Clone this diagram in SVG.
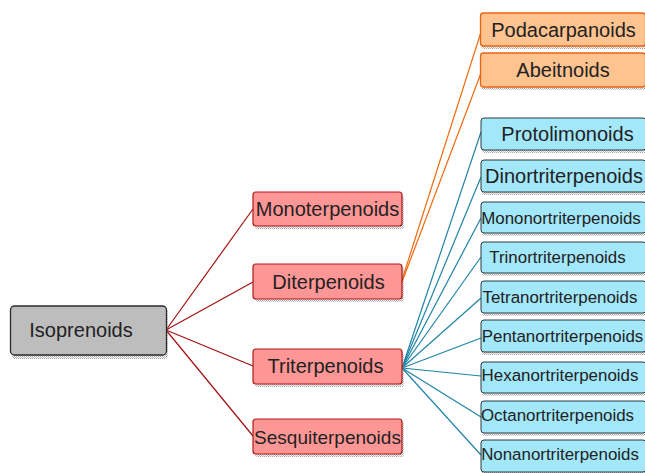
<svg xmlns="http://www.w3.org/2000/svg" width="645" height="473" viewBox="0 0 645 473">
<defs>
<pattern id="dots" width="2" height="2" patternUnits="userSpaceOnUse"><rect width="1" height="1" fill="#555"/><rect x="1" y="1" width="1" height="1" fill="#888"/></pattern>
</defs>
<style>
text{font-family:"Liberation Sans",Arial,sans-serif;fill:#222;text-anchor:middle}
.sh{fill:url(#dots);opacity:0.55}
.gray{fill:#bdbdbd;stroke:#2a2a2a;stroke-width:1.3}
.red{fill:#ff9696;stroke:#b01818;stroke-width:1.2}
.org{fill:#ffc38f;stroke:#ec6410;stroke-width:1.3}
.blu{fill:#a3e7fb;stroke:#2c3a40;stroke-width:1}
.cr{stroke:#a31010;stroke-width:1.2;fill:none}
.co{stroke:#f06a10;stroke-width:1.2;fill:none}
.cb{stroke:#1f84a6;stroke-width:1.2;fill:none}
.big{font-size:20px}
.sm{font-size:16.9px}
</style>
<g id="connectors">
<path class="cr" d="M166 330 L253 209"/>
<path class="cr" d="M166 330 L253 282"/>
<path class="cr" d="M166 330 L253 366"/>
<path class="cr" d="M166 330 L253 436"/>
<path class="co" d="M402 280 L481 32"/>
<path class="co" d="M402 282 L481 73"/>
<path class="cb" d="M402 368 L481 132"/>
<path class="cb" d="M402 368 L481 177"/>
<path class="cb" d="M402 368 L481 218"/>
<path class="cb" d="M402 368 L481 257"/>
<path class="cb" d="M402 368 L481 298"/>
<path class="cb" d="M402 368 L481 338"/>
<path class="cb" d="M402 368 L481 376"/>
<path class="cb" d="M402 368 L481 417"/>
<path class="cb" d="M402 368 L481 455"/>
</g>
<g id="isoprenoids"><rect class="sh" x="12" y="309" width="156" height="50" rx="4"/><rect class="gray" x="10.5" y="306" width="156" height="49" rx="4"/><text class="big" x="81" y="337">Isoprenoids</text></g>
<g id="monoterpenoids"><rect class="sh" x="255" y="195" width="149" height="34" rx="3"/><rect class="red" x="253" y="192" width="149" height="34" rx="3"/><text class="big" x="327.5" y="216">Monoterpenoids</text></g>
<g id="diterpenoids"><rect class="sh" x="255" y="267" width="149" height="35" rx="3"/><rect class="red" x="253" y="264" width="149" height="35" rx="3"/><text class="big" x="328.5" y="288.5">Diterpenoids</text></g>
<g id="triterpenoids"><rect class="sh" x="255" y="352" width="149" height="35" rx="3"/><rect class="red" x="253" y="349" width="149" height="35" rx="3"/><text class="big" x="325.5" y="373">Triterpenoids</text></g>
<g id="sesquiterpenoids"><rect class="sh" x="255" y="422" width="149" height="35" rx="3"/><rect class="red" x="253" y="419" width="149" height="35" rx="3"/><text x="327.5" y="443.5" style="font-size:19px">Sesquiterpenoids</text></g>
<g id="podacarpanoids"><rect class="sh" x="482" y="16" width="165" height="33" rx="3"/><rect class="org" x="480.5" y="13" width="165" height="33" rx="3"/><text class="big" x="563.5" y="36.5">Podacarpanoids</text></g>
<g id="abeitnoids"><rect class="sh" x="482" y="56" width="165" height="34" rx="3"/><rect class="org" x="480.5" y="53" width="165" height="34" rx="3"/><text class="big" x="563" y="77">Abeitnoids</text></g>
<g id="protolimonoids"><rect class="sh" x="482" y="121" width="165" height="32" rx="3"/><rect class="blu" x="481" y="118" width="165" height="32" rx="3"/><text class="big" x="567.5" y="141">Protolimonoids</text></g>
<g id="dinortriterpenoids"><rect class="sh" x="482" y="163" width="165" height="32" rx="3"/><rect class="blu" x="481" y="160" width="165" height="32" rx="3"/><text class="big" x="564" y="183">Dinortriterpenoids</text></g>
<g id="mononortriterpenoids"><rect class="sh" x="482" y="205" width="165" height="31" rx="3"/><rect class="blu" x="481" y="202" width="165" height="31" rx="3"/><text class="sm" x="561" y="223.5">Mononortriterpenoids</text></g>
<g id="trinortriterpenoids"><rect class="sh" x="482" y="245" width="165" height="31" rx="3"/><rect class="blu" x="481" y="242" width="165" height="31" rx="3"/><text class="sm" x="557.5" y="263">Trinortriterpenoids</text></g>
<g id="tetranortriterpenoids"><rect class="sh" x="482" y="284" width="165" height="32" rx="3"/><rect class="blu" x="481" y="281" width="165" height="32" rx="3"/><text class="sm" x="560" y="302.5">Tetranortriterpenoids</text></g>
<g id="pentanortriterpenoids"><rect class="sh" x="482" y="323" width="165" height="32" rx="3"/><rect class="blu" x="481" y="320" width="165" height="32" rx="3"/><text class="sm" x="562.5" y="342">Pentanortriterpenoids</text></g>
<g id="hexanortriterpenoids"><rect class="sh" x="482" y="365" width="165" height="31" rx="3"/><rect class="blu" x="481" y="362" width="165" height="31" rx="3"/><text class="sm" x="560" y="381">Hexanortriterpenoids</text></g>
<g id="octanortriterpenoids"><rect class="sh" x="482" y="404" width="165" height="32" rx="3"/><rect class="blu" x="481" y="401" width="165" height="32" rx="3"/><text class="sm" x="557.5" y="421">Octanortriterpenoids</text></g>
<g id="nonanortriterpenoids"><rect class="sh" x="482" y="443" width="165" height="32" rx="3"/><rect class="blu" x="481" y="440" width="165" height="32" rx="3"/><text class="sm" x="560" y="460">Nonanortriterpenoids</text></g>
</svg>
